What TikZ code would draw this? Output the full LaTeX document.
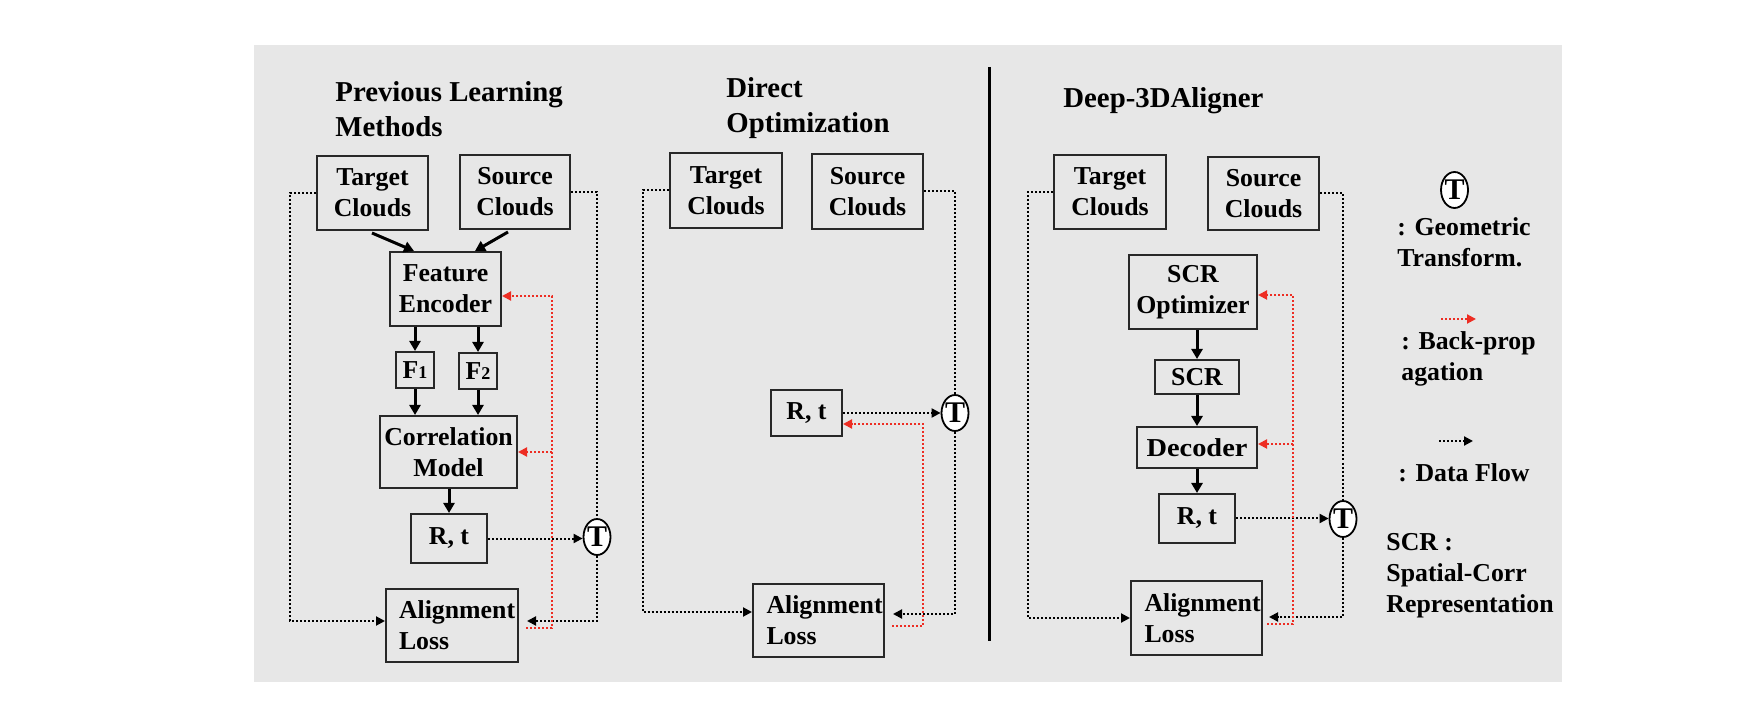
\documentclass[tikz,border=0pt]{standalone}
\usepackage{fontspec}
\usepackage{graphicx}
\setmainfont{Liberation Serif}
\usetikzlibrary{arrows.meta,calc,shapes.geometric}
\definecolor{bgray}{RGB}{231,231,231}
\definecolor{bpred}{RGB}{237,45,35}
\definecolor{edge}{RGB}{40,40,40}
\newcommand{\dgbody}{\bfseries\fontsize{12.9}{15.5}\selectfont}
\newcommand{\dgtitle}{\bfseries\fontsize{14.4}{17.5}\selectfont}
\newcommand{\dgsub}[1]{{\fontsize{9}{9}\selectfont #1}}
\begin{document}
\begin{tikzpicture}[x=0.5pt,y=-0.5pt,
  box/.style 2 args={draw=edge,line width=1pt,inner sep=0pt,align=flush center,font=\dgbody,
    minimum width=#1*0.5pt,minimum height=#2*0.5pt},
  tnode/.style={draw=black,line width=0.9pt,fill=white,ellipse,inner sep=0pt,
    minimum width=13.5pt,minimum height=18pt,font=\bfseries\fontsize{15}{15}\selectfont},
  title/.style={font=\dgtitle,align=flush left,inner sep=0pt,text width=150pt,anchor=base west},
  legtext/.style={font=\dgbody,align=flush left,inner sep=0pt,text width=95pt,anchor=base west},
  dline/.style={draw=black,line width=1pt,dash pattern=on 1pt off 1pt},
  dflow/.style={dline,-{Triangle[length=4.5pt,width=4.5pt]}},
  bp/.style={draw=bpred,line width=1pt,dash pattern=on 1pt off 1pt,-{Triangle[length=4.5pt,width=4.5pt]}},
  sarr/.style={draw=black,line width=1.5pt,-{Triangle[length=5pt,width=5.5pt]}}]
\useasboundingbox (0,0) rectangle (1744,715);
\fill[bgray] (254,45) rectangle (1562,682);

% ---------- titles ----------
\node[title] (tprev) at (335,102) {Previous Learning\\Methods};
\node[title] (tdirect) at (726,98) {Direct\\Optimization};
\node[title] (tdeep) at (1063,108) {Deep-3DAligner};

% ---------- divider ----------
\draw[line width=1.5pt] (989,67) -- (989,641);

% ---------- Previous learning methods ----------
\node[box={111}{74}] (LT) at (372.5,193) {Target\\Clouds};
\node[box={110}{74}] (LS) at (515,192) {Source\\Clouds};
\node[box={111}{74}] (LFE) at (445.5,289) {Feature\\Encoder};
\node[box={38}{36}] (LF1) at (415,370) {F\dgsub{1}};
\node[box={38}{36}] (LF2) at (478,371) {F\dgsub{2}};
\node[box={137}{72}] (LCM) at (448.5,452) {Correlation\\Model};
\node[box={76}{49}] (LR) at (449,538.5) {R, t};
\node[box={132}{73},text width=53pt,align=flush left] (LA) at (452,625.5) {Alignment\\Loss};
\node[tnode] (LTc) at (597,537) {\makebox[0pt]{T}};

\draw[sarr] ([xshift=-0.25pt,yshift=-1pt]LT.south) -- ([xshift=-15.75pt]LFE.north);
\draw[sarr] ([xshift=-3.5pt,yshift=-1pt]LS.south) -- ([xshift=14.75pt]LFE.north);
\draw[sarr] (LFE.south -| LF1.north) -- (LF1.north);
\draw[sarr] (LFE.south -| LF2.north) -- (LF2.north);
\draw[sarr] (LF1.south) -- (LF1.south |- LCM.north);
\draw[sarr] (LF2.south) -- (LF2.south |- LCM.north);
\draw[sarr] (LR.north |- LCM.south) -- (LR.north);

\draw[dflow] (LT.west) -- ++(-26,0) |- ([yshift=2.25pt]LA.west);
\draw[dline] (LS.east) -| (LTc.north);
\draw[dflow,shorten >=4pt] (LTc.south) |- ([yshift=2.25pt]LA.east);
\draw[dflow] (LR.east) -- (LR.east -| LTc.west);
\draw[bp] ([xshift=3.5pt,yshift=-1.25pt]LA.east) -- ++(26,0) coordinate (lr1) |- ([yshift=-3.5pt]LFE.east);
\draw[bp] (lr1 |- LCM.east) -- (LCM.east);

% ---------- Direct optimization ----------
\node[box={112}{75}] (DT) at (726,190.5) {Target\\Clouds};
\node[box={111}{75}] (DS) at (867.5,191.5) {Source\\Clouds};
\node[box={71}{46}] (DR) at (806.5,413) {R, t};
\node[box={131}{73},text width=52pt,align=flush left] (DA) at (818.5,620.5) {Alignment\\Loss};
\node[tnode] (DTc) at (955,413) {\makebox[0pt]{T}};

\draw[dflow] (DT.west) -- ++(-26,0) |- ([yshift=4.25pt]DA.west);
\draw[dline] (DS.east) -| (DTc.north);
\draw[dflow,shorten >=4pt] (DTc.south) |- ([yshift=3.25pt]DA.east);
\draw[dflow] (DR.east) -- (DR.east -| DTc.west);
\draw[bp] ([xshift=3.5pt,yshift=-2.75pt]DA.east) -- ++(31,0) |- ([yshift=-5.5pt]DR.east);

% ---------- Deep-3DAligner ----------
\node[box={112}{74}] (RT) at (1110,192) {Target\\Clouds};
\node[box={111}{73}] (RS) at (1263.5,193.5) {Source\\Clouds};
\node[box={128}{74}] (RO) at (1193,292) {SCR\\Optimizer};
\node[box={84}{34}] (RSCR) at (1197,377) {SCR};
\node[box={120}{41}] (RD) at (1197,447.5) {\scalebox{1.1}[1]{Decoder}};
\node[box={76}{49}] (RR) at (1197,518.5) {R, t};
\node[box={131}{74},text width=52pt,align=flush left] (RA) at (1196.5,618) {Alignment\\Loss};
\node[tnode] (RTc) at (1343,519) {\makebox[0pt]{T}};

\draw[sarr] (RSCR.north |- RO.south) -- (RSCR.north);
\draw[sarr] (RSCR.south) -- (RSCR.south |- RD.north);
\draw[sarr] (RR.north |- RD.south) -- (RR.north);

\draw[dflow] (RT.west) -- ++(-25,0) |- (RA.west);
\draw[dline] (RS.east) -| (RTc.north);
\draw[dflow,shorten >=3pt] (RTc.south) |- ([yshift=0.5pt]RA.east);
\draw[dflow] (RR.east) -- (RR.east -| RTc.west);
\draw[bp] ([xshift=2pt,yshift=-3pt]RA.east) -- ++(26,0) coordinate (rr1) |- ([yshift=-1.5pt]RO.east);
\draw[bp] ($(rr1 |- RD.east)+(0,-3.5)$) -- ($(RD.east)+(0,-3.5)$);

% ---------- legend ----------
\node[tnode] (LGT) at (1454.5,190) {\makebox[0pt]{T}};
\node[legtext] (lg1) at (1397,236) {: Geometric\\Transform.};
\coordinate (lgba) at (1441,319);
\coordinate (lgbb) at (1476,319);
\draw[bp] (lgba) -- (lgbb);
\node[legtext] (lg2) at (1401,350) {: Back-prop\\agation};
\coordinate (lgda) at (1439,441);
\coordinate (lgdb) at (1473,441);
\draw[dflow] (lgda) -- (lgdb);
\node[legtext] (lg3) at (1398,481) {: Data Flow};
\node[legtext] (lg4) at (1386,551) {SCR :\\Spatial-Corr\\Representation};
\end{tikzpicture}
\end{document}
